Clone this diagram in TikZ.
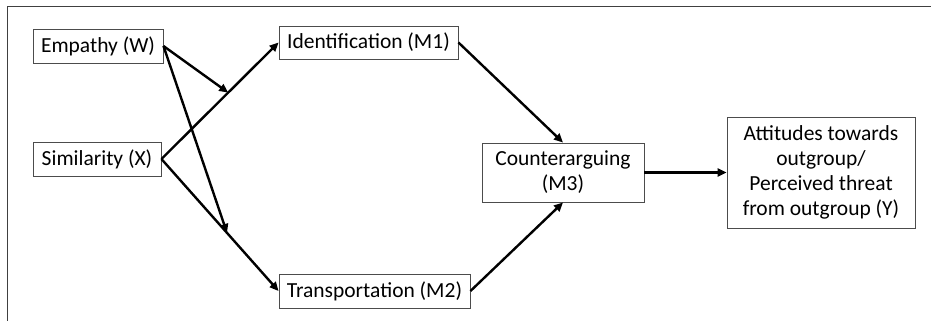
\documentclass[tikz,border=0pt]{standalone}
\usepackage{fontspec}
\setmainfont{Carlito}
\usetikzlibrary{arrows.meta}
\begin{document}
\begin{tikzpicture}[x=1pt,y=-1pt,
  box/.style={draw=black!70,line width=0.9pt,rectangle,inner sep=0pt,align=center,
    font=\fontsize{21.5}{25}\selectfont,text=black},
  arr/.style={line width=2.4pt,-{Triangle[length=9pt,width=8pt]}}]
\useasboundingbox (0,0) rectangle (931,321);
\draw[black!75,line width=1pt] (7,322) -- (7,7) -- (932,7);
\node[box,minimum width=130pt,minimum height=34pt] (W) at (98,46) {Empathy (W)};
\node[box,minimum width=128pt,minimum height=34pt] (X) at (97,159) {Similarity (X)};
\node[box,minimum width=179pt,minimum height=33pt] (M1) at (368.5,42.5) {Identification (M1)};
\node[box,minimum width=191pt,minimum height=34pt] (M2) at (374.5,291) {Transportation (M2)};
\node[box,minimum width=162pt,minimum height=59pt] (M3) at (563,172.5) {Counterarguing\\(M3)};
\node[box,minimum width=188pt,minimum height=111pt] (Y) at (821,172.5) {Attitudes towards\\outgroup/\\Perceived threat\\from outgroup (Y)};
\draw[arr] (X.east) -- (M1.west) coordinate[pos=0.57] (c1);
\draw[arr] (X.east) -- (M2.west) coordinate[pos=0.56] (c2);
\draw[arr] (W.east) -- (c1);
\draw[arr] (W.east) -- (c2);
\draw[arr] (M1.east) -- (M3.north);
\draw[arr] (M2.east) -- (M3.south);
\draw[arr] (M3.east) -- (Y.west);
\end{tikzpicture}
\end{document}
